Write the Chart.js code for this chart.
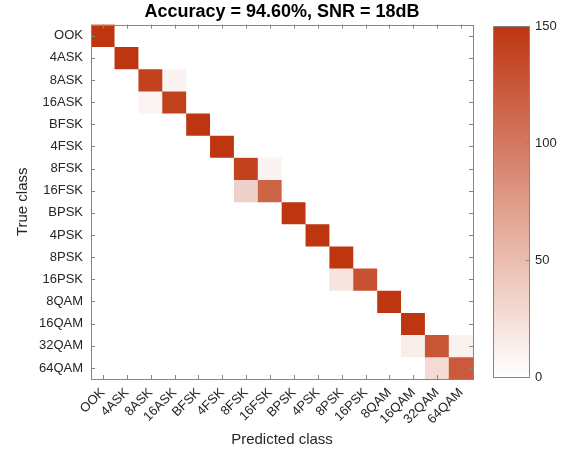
<!DOCTYPE html>
<html>
<head>
<meta charset="utf-8">
<script src="https://cdn.jsdelivr.net/npm/chart.js@4.4.1/dist/chart.umd.min.js"></script>
<style>
  body { margin: 0; background: #fff; }
  #wrap { position: relative; width: 569px; height: 457px; }
  #cm { position: absolute; left: 0; top: 0; }
  #cbar { position: absolute; left: 480px; top: 0; }
</style>
</head>
<body>
<div id="wrap">
  <canvas id="cm" width="569" height="457"></canvas>
  <canvas id="cbar" width="89" height="457"></canvas>
</div>
<script>
// class names, same order on both axes
const classes = ['OOK', '4ASK', '8ASK', '16ASK', 'BFSK', '4FSK', '8FSK', '16FSK',
                 'BPSK', '4PSK', '8PSK', '16PSK', '8QAM', '16QAM', '32QAM', '64QAM'];

// confusion counts, one array per true class (columns = predicted class)
const rowOOK   = [150,0,0,0,0,0,0,0,0,0,0,0,0,0,0,0];
const row4ASK  = [0,150,0,0,0,0,0,0,0,0,0,0,0,0,0,0];
const row8ASK  = [0,0,141,9,0,0,0,0,0,0,0,0,0,0,0,0];
const row16ASK = [0,0,8,142,0,0,0,0,0,0,0,0,0,0,0,0];
const rowBFSK  = [0,0,0,0,150,0,0,0,0,0,0,0,0,0,0,0];
const row4FSK  = [0,0,0,0,0,150,0,0,0,0,0,0,0,0,0,0];
const row8FSK  = [0,0,0,0,0,0,141,9,0,0,0,0,0,0,0,0];
const row16FSK = [0,0,0,0,0,0,34,116,0,0,0,0,0,0,0,0];
const rowBPSK  = [0,0,0,0,0,0,0,0,150,0,0,0,0,0,0,0];
const row4PSK  = [0,0,0,0,0,0,0,0,0,150,0,0,0,0,0,0];
const row8PSK  = [0,0,0,0,0,0,0,0,0,0,150,0,0,0,0,0];
const row16PSK = [0,0,0,0,0,0,0,0,0,0,20,130,0,0,0,0];
const row8QAM  = [0,0,0,0,0,0,0,0,0,0,0,0,150,0,0,0];
const row16QAM = [0,0,0,0,0,0,0,0,0,0,0,0,0,150,0,0];
const row32QAM = [0,0,0,0,0,0,0,0,0,0,0,0,0,13,127,10];
const row64QAM = [0,0,0,0,0,0,0,0,0,0,0,0,0,0,27,123];

const counts = [rowOOK, row4ASK, row8ASK, row16ASK, rowBFSK, row4FSK, row8FSK, row16FSK,
                rowBPSK, row4PSK, row8PSK, row16PSK, row8QAM, row16QAM, row32QAM, row64QAM];

// colour scale limits and colorbar ticks
const cMin = 0;
const cMax = 150;
const cbarTicks = [0, 50, 100, 150];

const titleText = 'Accuracy = 94.60%, SNR = 18dB';
const fontFam = '"Liberation Sans", Arial, Helvetica, sans-serif';
const hiColor = [190, 54, 16];

function cellColor(v) {
    var t = Math.max(0, Math.min(1, (v - cMin) / (cMax - cMin)));
    var c = [0, 1, 2].map(k => Math.round(255 + (hiColor[k] - 255) * t));
    return 'rgb(' + c.join(',') + ')';
}

// each true class is one stacked dataset; every cell spans one unit of the y scale
const datasets = counts.map((row, r) => ({
    label: classes[r],
    data: row.map(() => 1),
    counts: row,
    backgroundColor: row.map(cellColor),
    borderWidth: 0,
    barPercentage: 1,
    categoryPercentage: 1,
    stack: 'cm'
}));

// box round the axes plus small inward ticks on all four sides
const axesBox = {
    id: 'axesBox',
    afterDraw(chart) {
        const {ctx, chartArea: a, scales: {x, y}} = chart;
        const len = 4;
        ctx.save();
        ctx.strokeStyle = '#858585';
        ctx.lineWidth = 1;
        ctx.beginPath();
        for (let i = 0; i < classes.length; i++) {
            const px = Math.round(x.getPixelForTick(i)) + 0.5;
            ctx.moveTo(px, a.bottom); ctx.lineTo(px, a.bottom - len);
            ctx.moveTo(px, a.top); ctx.lineTo(px, a.top + len);
            const py = Math.round(y.getPixelForTick(i)) + 0.5;
            ctx.moveTo(a.left, py); ctx.lineTo(a.left + len, py);
            ctx.moveTo(a.right, py); ctx.lineTo(a.right - len, py);
        }
        ctx.stroke();
        ctx.strokeRect(Math.round(a.left) + 0.5, Math.round(a.top) + 0.5,
                       Math.round(a.right - a.left), Math.round(a.bottom - a.top));
        ctx.restore();
    }
};

new Chart(document.getElementById('cm'), {
    type: 'bar',
    data: { labels: classes, datasets: datasets },
    options: {
        responsive: false,
        animation: false,
        layout: { padding: { left: 0, right: 96, top: 0, bottom: 0 } },
        plugins: {
            legend: { display: false },
            tooltip: { enabled: false },
            title: {
                display: true,
                text: titleText,
                fullSize: false,
                color: '#000',
                font: { family: fontFam, size: 18, weight: 'bold' },
                padding: { top: 1, bottom: 2 }
            }
        },
        scales: {
            x: {
                stacked: true,
                grid: { display: false, drawTicks: false },
                border: { display: false },
                ticks: {
                    color: '#262626',
                    font: { family: fontFam, size: 13 },
                    minRotation: 45,
                    maxRotation: 45,
                    autoSkip: false,
                    padding: 6
                },
                title: {
                    display: true,
                    text: 'Predicted class',
                    color: '#262626',
                    font: { family: fontFam, size: 15 },
                    padding: { top: 4, bottom: 8 }
                },
                afterFit(scale) { scale.height = 78; }
            },
            y: {
                stacked: true,
                reverse: true,
                min: 0,
                max: classes.length,
                grid: { display: false, drawTicks: false },
                border: { display: false },
                afterBuildTicks(scale) {
                    scale.ticks = classes.map((_, i) => ({ value: i + 0.5 }));
                },
                ticks: {
                    color: '#262626',
                    font: { family: fontFam, size: 13 },
                    padding: 8,
                    autoSkip: false,
                    callback: (v) => classes[Math.floor(v)]
                },
                title: {
                    display: true,
                    text: 'True class',
                    color: '#262626',
                    font: { family: fontFam, size: 15 },
                    padding: { top: 14, bottom: 0 }
                },
                afterFit(scale) { scale.width = 91; }
            }
        }
    },
    plugins: [axesBox]
});

// colorbar: a single full-range bar filled with the colour ramp
const cbarFrame = {
    id: 'cbarFrame',
    afterDraw(chart) {
        const {ctx, chartArea: a, scales: {y}} = chart;
        ctx.save();
        ctx.strokeStyle = '#858585';
        ctx.lineWidth = 1;
        ctx.beginPath();
        cbarTicks.forEach(v => {
            const py = Math.round(y.getPixelForValue(v)) + 0.5;
            ctx.moveTo(a.right, py); ctx.lineTo(a.right - 3, py);
        });
        ctx.stroke();
        ctx.strokeRect(Math.round(a.left) + 0.5, Math.round(a.top) + 0.5,
                       Math.round(a.right - a.left), Math.round(a.bottom - a.top));
        ctx.restore();
    }
};

new Chart(document.getElementById('cbar'), {
    type: 'bar',
    data: {
        labels: [''],
        datasets: [{
            data: [cMax],
            borderWidth: 0,
            barPercentage: 1,
            categoryPercentage: 1,
            backgroundColor(context) {
                const a = context.chart.chartArea;
                if (!a) return cellColor(cMax);
                const g = context.chart.ctx.createLinearGradient(0, a.bottom, 0, a.top);
                for (let i = 0; i <= 10; i++) {
                    g.addColorStop(i / 10, cellColor(cMin + (cMax - cMin) * i / 10));
                }
                return g;
            }
        }]
    },
    options: {
        responsive: false,
        animation: false,
        layout: { padding: { left: 13, right: 0, top: 26, bottom: 80 } },
        plugins: { legend: { display: false }, tooltip: { enabled: false } },
        scales: {
            x: { display: false, offset: true },
            y: {
                position: 'right',
                min: cMin,
                max: cMax,
                grid: { display: false, drawTicks: false },
                border: { display: false },
                afterBuildTicks(scale) {
                    scale.ticks = cbarTicks.map(v => ({ value: v }));
                },
                ticks: {
                    color: '#262626',
                    font: { family: fontFam, size: 13 },
                    padding: 6
                },
                afterFit(scale) { scale.width = 40; }
            }
        }
    },
    plugins: [cbarFrame]
});
</script>
</body>
</html>
